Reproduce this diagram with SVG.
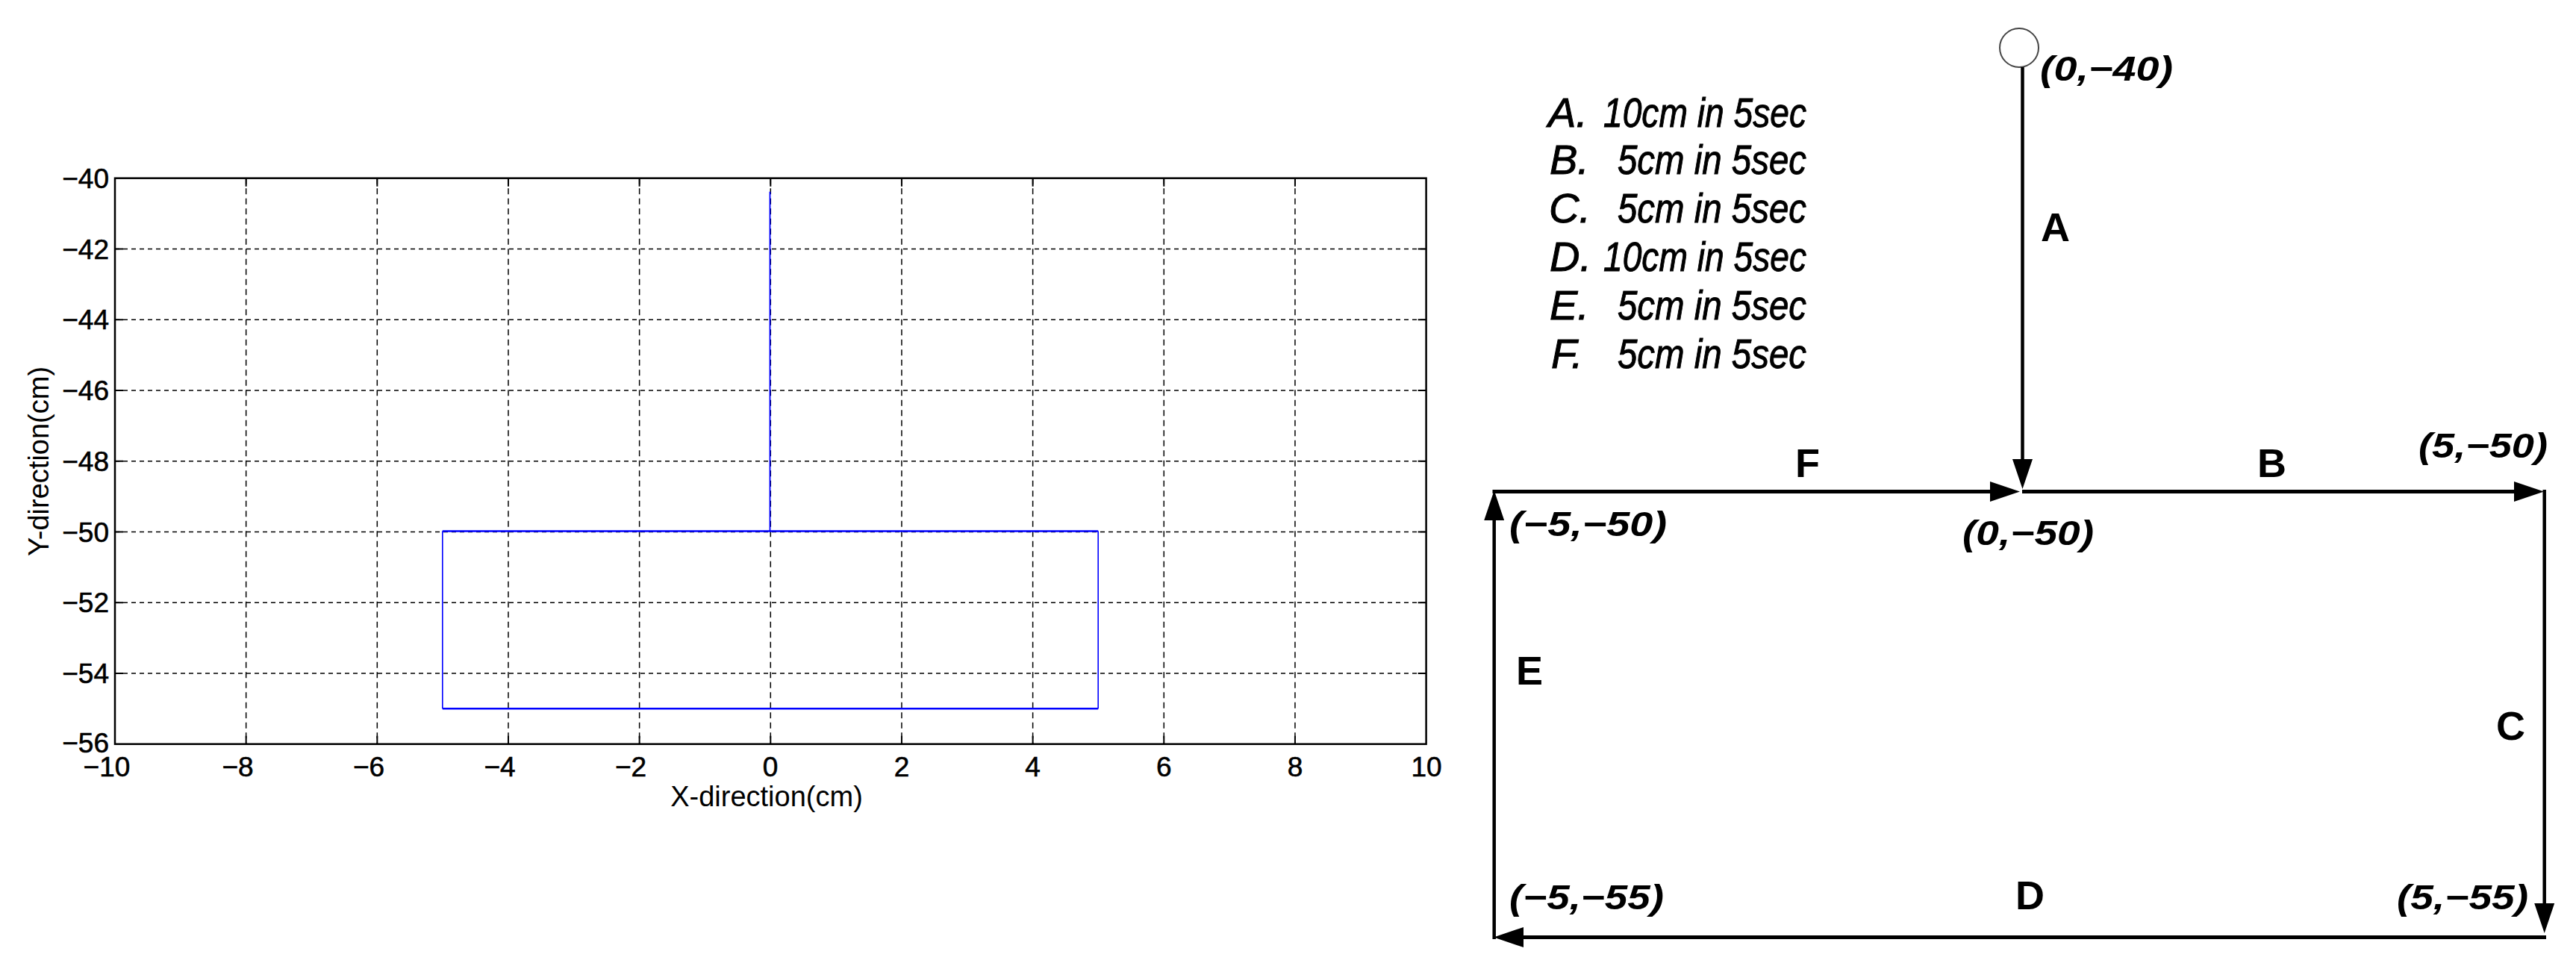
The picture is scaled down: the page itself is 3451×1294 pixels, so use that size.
<svg xmlns="http://www.w3.org/2000/svg" width="3451" height="1294" viewBox="0 0 3451 1294">
<style>
.gridv{stroke:#000;stroke-width:1.5;stroke-dasharray:8 5.5;fill:none}
.gridh{stroke:#000;stroke-width:1.5;stroke-dasharray:6 5;fill:none}
.tick{stroke:#000;stroke-width:2;fill:none}
.axis{stroke:#000;stroke-width:2.5;fill:none}
.tl{font-family:"Liberation Sans",Arial,sans-serif;font-size:37px;fill:#000;stroke:#000;stroke-width:0.6}
.tlx{text-anchor:middle}
.tly{text-anchor:end}
.atitle{font-family:"Liberation Sans",Arial,sans-serif;font-size:38px;fill:#000;text-anchor:middle}
.path{stroke:#0000FF;fill:none}
.seg{stroke:#000;stroke-width:5;fill:none;marker-end:url(#arr)}
.segv{stroke:#000;stroke-width:4.5;fill:none;marker-end:url(#arr)}
.coord{font-family:"Liberation Sans",Arial,sans-serif;font-size:46px;font-weight:bold;font-style:italic;fill:#000}
.lg{font-family:"Liberation Sans",Arial,sans-serif;font-size:56px;font-style:italic;fill:#000;stroke:#000;stroke-width:1}
.lbl{font-family:"Liberation Sans",Arial,sans-serif;font-size:54px;font-weight:bold;fill:#000}
</style>
<defs>
<marker id="arr" markerUnits="userSpaceOnUse" markerWidth="40" markerHeight="27" refX="10" refY="13.5" orient="auto" viewBox="0 0 40 27">
<path d="M0,0 L40,13.5 L0,27 Z" fill="#000"/>
</marker>
</defs>
<rect width="3451" height="1294" fill="#fff"/>

<g id="plot">
<g id="grid">
<path class="gridv" d="M329.66,238.7V996.7M505.32,238.7V996.7M680.98,238.7V996.7M856.64,238.7V996.7M1032.3,238.7V996.7M1207.96,238.7V996.7M1383.62,238.7V996.7M1559.28,238.7V996.7M1734.94,238.7V996.7"/>
<path class="gridh" d="M154,333.45H1910.6M154,428.2H1910.6M154,522.95H1910.6M154,617.7H1910.6M154,712.45H1910.6M154,807.2H1910.6M154,901.95H1910.6"/>
</g>
<g id="ticks">
<path class="tick" d="M329.66,238.7v11M505.32,238.7v11M680.98,238.7v11M856.64,238.7v11M1032.3,238.7v11M1207.96,238.7v11M1383.62,238.7v11M1559.28,238.7v11M1734.94,238.7v11
M329.66,996.7v-11M505.32,996.7v-11M680.98,996.7v-11M856.64,996.7v-11M1032.3,996.7v-11M1207.96,996.7v-11M1383.62,996.7v-11M1559.28,996.7v-11M1734.94,996.7v-11
M154,333.45h11M154,428.2h11M154,522.95h11M154,617.7h11M154,712.45h11M154,807.2h11M154,901.95h11
M1910.6,333.45h-11M1910.6,428.2h-11M1910.6,522.95h-11M1910.6,617.7h-11M1910.6,712.45h-11M1910.6,807.2h-11M1910.6,901.95h-11"/>
</g>
<rect class="axis" x="154" y="238.7" width="1756.6" height="758"/>
<g id="trajectory">
<path class="path" stroke-width="1.8" d="M1031.5,256.7V711.5"/>
<path class="path" stroke-width="2.4" d="M592.8,711.5H1471.2M592.8,949.3H1471.2"/>
<path class="path" stroke-width="1.6" d="M592.8,711.5V949.3M1471.2,711.5V949.3"/>
</g>
<g id="ylabels" class="tl tly">
<text x="146" y="251.7">−40</text>
<text x="146" y="346.5">−42</text>
<text x="146" y="441.2">−44</text>
<text x="146" y="536">−46</text>
<text x="146" y="630.7">−48</text>
<text x="146" y="725.5">−50</text>
<text x="146" y="820.2">−52</text>
<text x="146" y="915">−54</text>
<text x="146" y="1008">−56</text>
</g>
<g id="xlabels" class="tl tlx">
<text x="143" y="1040">−10</text>
<text x="318.5" y="1040">−8</text>
<text x="494" y="1040">−6</text>
<text x="669.5" y="1040">−4</text>
<text x="845" y="1040">−2</text>
<text x="1032" y="1040">0</text>
<text x="1208" y="1040">2</text>
<text x="1383.6" y="1040">4</text>
<text x="1559.3" y="1040">6</text>
<text x="1735" y="1040">8</text>
<text x="1911" y="1040">10</text>
</g>
<text class="atitle" x="1027" y="1080">X-direction(cm)</text>
<text class="atitle" transform="translate(65,618) rotate(-90)">Y-direction(cm)</text>
</g>

<g id="legend">
<text class="lg" x="2074" y="170">A.</text><text class="lg" x="2420" y="170" text-anchor="end" textLength="272" lengthAdjust="spacingAndGlyphs">10cm in 5sec</text>
<text class="lg" x="2076" y="233">B.</text><text class="lg" x="2420" y="233" text-anchor="end" textLength="253" lengthAdjust="spacingAndGlyphs">5cm in 5sec</text>
<text class="lg" x="2075" y="297.5">C.</text><text class="lg" x="2420" y="297.5" text-anchor="end" textLength="253" lengthAdjust="spacingAndGlyphs">5cm in 5sec</text>
<text class="lg" x="2076" y="363">D.</text><text class="lg" x="2420" y="363" text-anchor="end" textLength="272" lengthAdjust="spacingAndGlyphs">10cm in 5sec</text>
<text class="lg" x="2076" y="428">E.</text><text class="lg" x="2420" y="428" text-anchor="end" textLength="253" lengthAdjust="spacingAndGlyphs">5cm in 5sec</text>
<text class="lg" x="2078" y="493">F.</text><text class="lg" x="2420" y="493" text-anchor="end" textLength="253" lengthAdjust="spacingAndGlyphs">5cm in 5sec</text>
</g>

<g id="start-point">
<circle cx="2705" cy="64" r="26" fill="#fff" stroke="#444" stroke-width="2"/>
<text class="coord" x="2733" y="108" textLength="178" lengthAdjust="spacingAndGlyphs">(0,−40)</text>
</g>
<g id="point-0-50">
<text class="coord" x="2629" y="730" textLength="176" lengthAdjust="spacingAndGlyphs">(0,−50)</text>
</g>
<g id="point-5-50">
<text class="coord" x="3240" y="613" textLength="173" lengthAdjust="spacingAndGlyphs">(5,−50)</text>
</g>
<g id="point-5-55">
<text class="coord" x="3211" y="1218" textLength="176" lengthAdjust="spacingAndGlyphs">(5,−55)</text>
</g>
<g id="point-m5-55">
<text class="coord" x="2022" y="1218" textLength="207" lengthAdjust="spacingAndGlyphs">(−5,−55)</text>
</g>
<g id="point-m5-50">
<text class="coord" x="2022" y="718" textLength="211" lengthAdjust="spacingAndGlyphs">(−5,−50)</text>
</g>

<g id="connectors">
<path id="seg-A" class="segv" d="M2709.5,90V625"/>
<path id="seg-B" class="seg" d="M2709,658.5H3378"/>
<path id="seg-C" class="segv" d="M3408.7,656V1220"/>
<path id="seg-D" class="seg" d="M3411,1255.5H2031"/>
<path id="seg-E" class="segv" d="M2001.7,1258V687"/>
<path id="seg-F" class="seg" d="M1999.5,658.5H2676"/>
<text class="lbl" x="2734" y="323">A</text>
<text class="lbl" x="3024" y="639">B</text>
<text class="lbl" x="3344" y="991">C</text>
<text class="lbl" x="2700" y="1218">D</text>
<text class="lbl" x="2031" y="917">E</text>
<text class="lbl" x="2405" y="639">F</text>
</g>
</svg>
